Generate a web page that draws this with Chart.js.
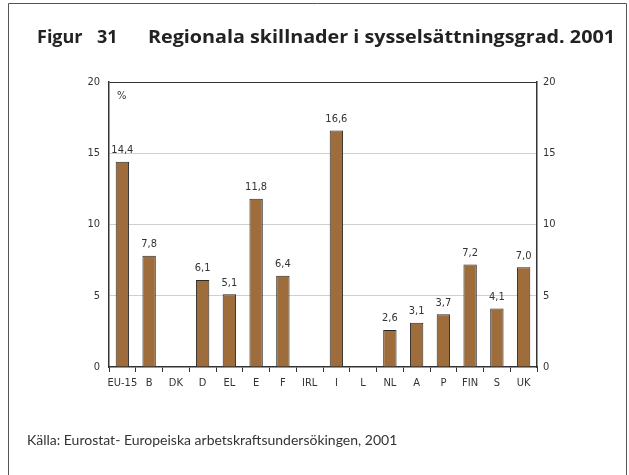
<!DOCTYPE html>
<html>
<head>
<meta charset="utf-8">
<script src="https://cdn.jsdelivr.net/npm/chart.js@4/dist/chart.umd.min.js"></script>
<style>
  html, body { margin: 0; padding: 0; background: #fff; }
  #wrap { position: relative; width: 629px; height: 475px; }
</style>
</head>
<body>
<div id="wrap"><canvas id="chart" width="629" height="475"></canvas></div>
<script>
// data
const countries = ["EU-15", "B", "DK", "D", "EL", "E", "F", "IRL", "I", "L", "NL", "A", "P", "FIN", "S", "UK"];
const values = [14.4, 7.8, null, 6.1, 5.1, 11.8, 6.4, null, 16.6, null, 2.6, 3.1, 3.7, 7.2, 4.1, 7.0];
const yTicks = [0, 5, 10, 15, 20];

const barColor = "#9e6d3b";
const darkLine = "#333333";
const narrowFont = "'DejaVu Sans Condensed', 'Liberation Sans Narrow', sans-serif";
const titleText = "Regionala skillnader i sysselsättningsgrad. 2001";

function fmt(v) {
  return v.toFixed(1).replace(".", ",");
}

// title, frame, source, % sign and value labels
const decorPlugin = {
  id: "decor",
  afterDraw(chart) {
    const ctx = chart.ctx;
    ctx.save();

    // outer frame (no bottom edge)
    ctx.strokeStyle = "#555";
    ctx.lineWidth = 1;
    ctx.beginPath();
    ctx.moveTo(8.5, 475);
    ctx.lineTo(8.5, 3.5);
    ctx.lineTo(626.5, 3.5);
    ctx.lineTo(626.5, 475);
    ctx.stroke();

    // title - squeeze the main part to span the same width as the original
    ctx.fillStyle = "#222";
    ctx.textBaseline = "alphabetic";
    ctx.textAlign = "left";
    ctx.font = "bold 18px 'Open Sans', sans-serif";
    ctx.fillText("Figur", 37, 43);
    ctx.fillText("31", 97, 43);
    const w = ctx.measureText(titleText).width;
    ctx.save();
    ctx.translate(148, 43);
    ctx.scale(467 / w, 1);
    ctx.fillText(titleText, 0, 0);
    ctx.restore();

    // source
    ctx.font = "14px Lato, 'Open Sans', sans-serif";
    ctx.fillStyle = "#333";
    ctx.fillText("Källa: Eurostat- Europeiska arbetskraftsundersökingen, 2001", 27, 445);

    // unit
    const area = chart.chartArea;
    ctx.font = "11px " + narrowFont;
    ctx.fillText("%", area.left + 8, area.top + 17);

    // value labels above bars
    const meta = chart.getDatasetMeta(0);
    ctx.textAlign = "center";
    ctx.textBaseline = "bottom";
    ctx.font = "11px " + narrowFont;
    meta.data.forEach(function (bar, i) {
      if (values[i] === null) return;
      ctx.fillText(fmt(values[i]), bar.x, bar.y - 6);
    });
    ctx.restore();
  }
};

function gridColor(c) {
  if (c.tick.value === 20) return darkLine;
  if (c.tick.value === 0) return "rgba(0,0,0,0)";
  return "#d0d0d0";
}

new Chart(document.getElementById("chart"), {
  type: "bar",
  data: {
    labels: countries,
    datasets: [{
      data: values,
      backgroundColor: barColor,
      borderColor: "#2a2a2a",
      borderWidth: 1,
      barPercentage: 0.5,
      categoryPercentage: 1.0
    }]
  },
  options: {
    responsive: false,
    animation: false,
    layout: { padding: { top: 82, left: 0, right: 0, bottom: 0 } },
    plugins: { legend: { display: false }, tooltip: { enabled: false } },
    scales: {
      x: {
        offset: true,
        grid: {
          offset: true,
          drawOnChartArea: false,
          drawTicks: true,
          tickLength: 5,
          color: darkLine
        },
        border: { display: true, color: darkLine, width: 1.5 },
        ticks: {
          color: "#333",
          font: { family: narrowFont, size: 11 },
          padding: 5,
          maxRotation: 0,
          autoSkip: false
        },
        afterFit(axis) { axis.height = 108; }
      },
      y: {
        position: "left",
        min: 0,
        max: 20,
        afterBuildTicks(axis) { axis.ticks = yTicks.map(function (v) { return { value: v }; }); },
        grid: { color: gridColor, drawTicks: false, lineWidth: 1 },
        border: { display: true, color: darkLine, width: 1.5 },
        ticks: {
          color: "#333",
          font: { family: narrowFont, size: 11 },
          padding: 9
        },
        afterFit(axis) { axis.width = 109; }
      },
      y2: {
        position: "right",
        min: 0,
        max: 20,
        afterBuildTicks(axis) { axis.ticks = yTicks.map(function (v) { return { value: v }; }); },
        grid: { drawOnChartArea: false, drawTicks: false },
        border: { display: true, color: darkLine, width: 1.5 },
        ticks: {
          color: "#333",
          font: { family: narrowFont, size: 11 },
          padding: 6
        },
        afterFit(axis) { axis.width = 92; }
      }
    }
  },
  plugins: [decorPlugin]
});
</script>
</body>
</html>
